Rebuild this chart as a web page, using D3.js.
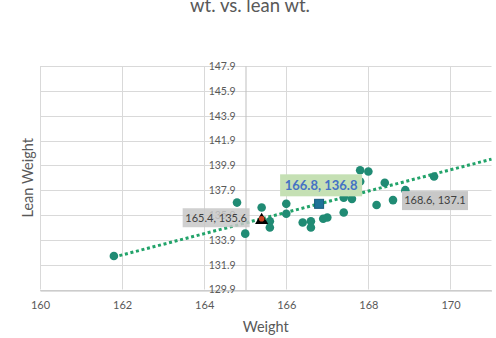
<!DOCTYPE html>
<html>
<head>
<meta charset="utf-8">
<script src="https://cdn.jsdelivr.net/npm/d3@7"></script>
<style>
  html, body { margin: 0; padding: 0; background: #fff; }
  svg { display: block; font-family: Lato, "Open Sans", sans-serif; }
</style>
</head>
<body>
<svg id="chart" width="496" height="338"></svg>
<script>
// Body weight vs. lean weight readings
const weight = [161.8, 164.8, 165.0, 165.4, 165.6, 165.6, 166.0, 166.0, 166.4, 166.6, 166.6, 166.9,
                167.0, 167.4, 167.4, 167.6, 167.8, 168.0, 167.8, 168.2, 168.4, 168.6, 168.9, 169.6];
const leanWeight = [132.6, 136.9, 134.4, 136.5, 135.4, 134.9, 136.8, 136.0, 135.3, 135.4, 134.9, 135.6,
                    135.7, 136.1, 137.3, 137.2, 139.5, 139.4, 138.6, 136.7, 138.5, 137.1, 137.9, 139.0];

// Highlighted points with their callouts
const markedPoint = [165.4, 135.6];   // triangle marker
const centerPoint = [166.8, 136.8];   // square marker
const calloutPoint = [168.6, 137.1];

// Linear trend (lean = slope * weight + intercept)
const trendSlope = 0.857;
const trendIntercept = -6.15;

const xTicks = [160, 162, 164, 166, 168, 170];
const yTicks = [129.9, 131.9, 133.9, 135.9, 137.9, 139.9, 141.9, 143.9, 145.9, 147.9];
const xDomain = [160, 171];
const yDomain = [129.9, 147.9];
const yAxisCross = 165;

const svg = d3.select("#chart");
const x = d3.scaleLinear().domain(xDomain).range([40, 491.5]);
const y = d3.scaleLinear().domain(yDomain).range([289.5, 66]);

const grid = "#d9d9d9", axisCol = "#bfbfbf", textCol = "#595959";

// gridlines
svg.append("g").selectAll("line").data(yTicks).join("line")
  .attr("x1", x(xDomain[0])).attr("x2", x(xDomain[1]))
  .attr("y1", d => Math.round(y(d)) + 0.5).attr("y2", d => Math.round(y(d)) + 0.5)
  .attr("stroke", grid);
svg.append("g").selectAll("line").data(xTicks).join("line")
  .attr("x1", d => Math.round(x(d)) + 0.5).attr("x2", d => Math.round(x(d)) + 0.5)
  .attr("y1", y(yDomain[0])).attr("y2", y(yDomain[1]))
  .attr("stroke", grid);

// horizontal axis along the bottom
const xAxis = svg.append("g")
  .attr("transform", `translate(0,${Math.round(y(yDomain[0])) + 0.5})`)
  .call(d3.axisBottom(x).tickValues(xTicks).tickSize(0).tickPadding(11).tickFormat(d3.format("d")));
xAxis.select(".domain").attr("stroke", axisCol);
xAxis.selectAll("text").attr("fill", textCol).style("font-size", "11px").style("font-family", "Lato");

// vertical axis crossing at 165
const yAxis = svg.append("g")
  .attr("transform", `translate(${Math.round(x(yAxisCross)) + 0.5},0)`)
  .call(d3.axisLeft(y).tickValues(yTicks).tickSize(0).tickPadding(10).tickFormat(d3.format(".1f")));
yAxis.select(".domain").attr("stroke", axisCol);
yAxis.selectAll("text").attr("fill", textCol).style("font-size", "10.5px").style("font-family", "Lato");

// trend line
const tx0 = d3.min(weight), tx1 = xDomain[1];
svg.append("line")
  .attr("x1", x(tx0)).attr("y1", y(trendSlope * tx0 + trendIntercept))
  .attr("x2", x(tx1)).attr("y2", y(trendSlope * tx1 + trendIntercept))
  .attr("stroke", "#22a36a").attr("stroke-width", 3)
  .attr("stroke-dasharray", "3 2.7");

// data points
svg.append("g").selectAll("circle").data(weight.map((w, i) => [w, leanWeight[i]])).join("circle")
  .attr("cx", d => x(d[0])).attr("cy", d => y(d[1])).attr("r", 4.3)
  .attr("fill", "#208b74");

// triangle marker with inner dot
svg.append("path")
  .attr("d", d3.symbol(d3.symbolTriangle, 75)())
  .attr("transform", `translate(${x(markedPoint[0])},${y(markedPoint[1]) + 1.5})`)
  .attr("fill", "#000");
svg.append("circle")
  .attr("cx", x(markedPoint[0])).attr("cy", y(markedPoint[1]))
  .attr("r", 2.8).attr("fill", "#cc4422");

// square marker
svg.append("rect")
  .attr("x", x(centerPoint[0]) - 4.5).attr("y", y(centerPoint[1]) - 4.5)
  .attr("width", 9).attr("height", 9)
  .attr("fill", "#1f7399").attr("stroke", "#175a7c").attr("stroke-width", 1);

// callout labels
function callout(text, cx, cy, w, h, fill, opts) {
  svg.append("rect")
    .attr("x", cx - w / 2).attr("y", cy - h / 2).attr("width", w).attr("height", h)
    .attr("fill", fill).attr("fill-opacity", opts.opacity || 1);
  svg.append("text")
    .attr("x", cx).attr("y", cy).attr("dy", "0.35em")
    .attr("text-anchor", "middle")
    .attr("fill", opts.color).style("font-size", opts.size)
    .style("font-weight", opts.weight || "normal")
    .text(text);
}
const fmt = p => `${p[0].toFixed(1)}, ${p[1].toFixed(1)}`;
callout(fmt(markedPoint), x(markedPoint[0]) - 45.5, y(markedPoint[1]) - 1, 67, 19, "#c8c8c8",
  { color: "#404040", size: "11px", opacity: 0.85 });
callout(fmt(centerPoint), x(centerPoint[0]) + 2, y(centerPoint[1]) - 18.5, 82, 22, "#c5e0b4",
  { color: "#4472c4", size: "13px", weight: "bold" });
callout(fmt(calloutPoint), x(calloutPoint[0]) + 42, y(calloutPoint[1]) + 0.5, 66, 19, "#c8c8c8",
  { color: "#404040", size: "11px" });

// titles
svg.append("text")
  .attr("x", 250).attr("y", 12).attr("text-anchor", "middle")
  .attr("fill", textCol).style("font-size", "18.5px")
  .text("wt. vs. lean wt.");
svg.append("text")
  .attr("x", (x(xDomain[0]) + x(xDomain[1])) / 2).attr("y", 332)
  .attr("text-anchor", "middle").attr("fill", textCol).style("font-size", "14.5px")
  .text("Weight");
svg.append("text")
  .attr("transform", `translate(33,${(y(yDomain[0]) + y(yDomain[1])) / 2}) rotate(-90)`)
  .attr("text-anchor", "middle").attr("fill", textCol).style("font-size", "14.5px")
  .text("Lean Weight");
</script>
</body>
</html>
